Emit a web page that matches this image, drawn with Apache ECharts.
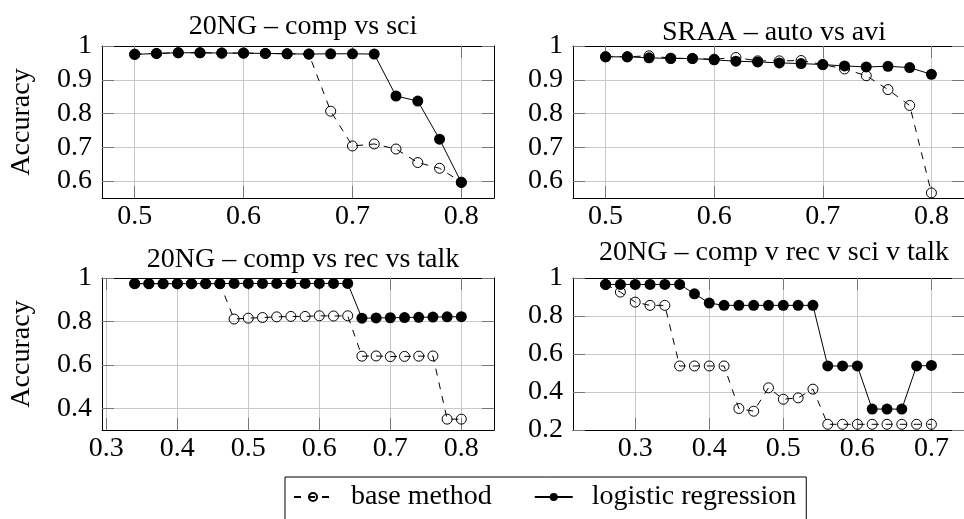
<!DOCTYPE html>
<html>
<head>
<meta charset="utf-8">
<script src="https://cdn.jsdelivr.net/npm/echarts@6/dist/echarts.min.js"></script>
<style>
html,body{margin:0;padding:0;background:#fff;}
#chart{width:964px;height:519px;}
</style>
</head>
<body>
<div id="chart"></div>
<script>
// ---- data ----
const titles = ['20NG \u2013 comp vs sci', 'SRAA \u2013 auto vs avi', '20NG \u2013 comp vs rec vs talk', '20NG \u2013 comp v rec v sci v talk'];
const seriesNames = ['base method', 'logistic regression'];
const yName = 'Accuracy';

const p1X = [0.50,0.52,0.54,0.56,0.58,0.60,0.62,0.64,0.66,0.68,0.70,0.72,0.74,0.76,0.78,0.80];
const p1Base = [0.976,0.978,0.980,0.980,0.979,0.979,0.978,0.977,0.976,0.807,0.704,0.710,0.695,0.655,0.638,0.597];
const p1Logit = [0.975,0.978,0.980,0.980,0.979,0.979,0.978,0.977,0.976,0.977,0.977,0.976,0.852,0.837,0.724,0.596];

const p2X = [0.50,0.52,0.54,0.56,0.58,0.60,0.62,0.64,0.66,0.68,0.70,0.72,0.74,0.76,0.78,0.80];
const p2Base = [0.968,0.968,0.971,0.964,0.963,0.961,0.966,0.956,0.956,0.957,0.945,0.932,0.912,0.871,0.824,0.565];
const p2Logit = [0.968,0.968,0.965,0.963,0.963,0.959,0.955,0.953,0.950,0.948,0.945,0.941,0.938,0.940,0.936,0.916];

const p3X = [0.34,0.36,0.38,0.40,0.42,0.44,0.46,0.48,0.50,0.52,0.54,0.56,0.58,0.60,0.62,0.64,0.66,0.68,0.70,0.72,0.74,0.76,0.78,0.80];
const p3Base = [0.974,0.974,0.974,0.974,0.974,0.974,0.974,0.811,0.815,0.818,0.821,0.823,0.823,0.826,0.825,0.826,0.640,0.641,0.638,0.639,0.640,0.641,0.350,0.350];
const p3Logit = [0.974,0.974,0.974,0.974,0.974,0.974,0.974,0.975,0.975,0.975,0.975,0.975,0.975,0.975,0.975,0.975,0.815,0.816,0.817,0.818,0.819,0.820,0.821,0.822];

const p4X = [0.26,0.28,0.30,0.32,0.34,0.36,0.38,0.40,0.42,0.44,0.46,0.48,0.50,0.52,0.54,0.56,0.58,0.60,0.62,0.64,0.66,0.68,0.70];
const p4Base = [0.966,0.926,0.873,0.856,0.856,0.537,0.537,0.537,0.537,0.313,0.299,0.422,0.362,0.369,0.415,0.230,0.230,0.230,0.230,0.230,0.230,0.230,0.230];
const p4Logit = [0.966,0.966,0.966,0.966,0.966,0.966,0.917,0.868,0.856,0.856,0.856,0.856,0.856,0.856,0.856,0.537,0.537,0.537,0.310,0.310,0.310,0.537,0.540];

// tick values per panel
const p1XTicks = [0.5,0.6,0.7,0.8];
const p2XTicks = [0.5,0.6,0.7,0.8];
const p3XTicks = [0.3,0.4,0.5,0.6,0.7,0.8];
const p4XTicks = [0.3,0.4,0.5,0.6,0.7];
const p1YTicks = [0.6,0.7,0.8,0.9,1];
const p2YTicks = [0.6,0.7,0.8,0.9,1];
const p3YTicks = [0.4,0.6,0.8,1];
const p4YTicks = [0.2,0.4,0.6,0.8,1];

// ---- layout / style ----
const FONT = '"Liberation Serif", "Times New Roman", serif';
const FS = 28;
const panels = [
  {x:p1X, base:p1Base, logit:p1Logit, xt:p1XTicks, yt:p1YTicks, xr:[0.47,0.83], yr:[0.55,1.0], grid:{left:102,top:46,width:392,height:152}, yname:true, titleTop:8},
  {x:p2X, base:p2Base, logit:p2Logit, xt:p2XTicks, yt:p2YTicks, xr:[0.47,0.83], yr:[0.55,1.0], grid:{left:573,top:46,width:392,height:152}, yname:false, titleTop:14},
  {x:p3X, base:p3Base, logit:p3Logit, xt:p3XTicks, yt:p3YTicks, xr:[0.294,0.846], yr:[0.3,1.0], grid:{left:102,top:278,width:392,height:152}, yname:true, titleTop:241},
  {x:p4X, base:p4Base, logit:p4Logit, xt:p4XTicks, yt:p4YTicks, xr:[0.216,0.744], yr:[0.2,1.0], grid:{left:573,top:278,width:392,height:152}, yname:false, titleTop:234}
];

const fmt = v => String(Math.round(v * 10) / 10);
const tickStyle = {show:true, inside:true, length:12, lineStyle:{color:'#777', width:1}};
const axisLine = {show:true, onZero:false, lineStyle:{color:'#000', width:1}};
const gridLine = {show:true, lineStyle:{color:'#c8c8c8', width:1}};

const option = {
  animation:false,
  backgroundColor:'#fff',
  title:[], grid:[], xAxis:[], yAxis:[], series:[],
  legend:{
    data:seriesNames,
    left:285, top:477,
    orient:'horizontal',
    backgroundColor:'#fff',
    borderColor:'#000', borderWidth:1, borderRadius:0,
    padding:[6,10,30,8],
    itemWidth:38, itemHeight:10, itemGap:42,
    textStyle:{fontFamily:FONT, fontSize:FS, color:'#000', padding:[0,0,0,14]}
  }
};

panels.forEach((p, i) => {
  const g = p.grid;
  option.grid.push({left:g.left, top:g.top, width:g.width, height:g.height, containLabel:false});
  option.title.push({
    text:titles[i], left:g.left + g.width/2, top:p.titleTop, textAlign:'center',
    textStyle:{fontFamily:FONT, fontSize:FS, fontWeight:'normal', color:'#000'}
  });
  // bottom x
  option.xAxis.push({
    type:'value', gridIndex:i, position:'bottom', min:p.xr[0], max:p.xr[1],
    axisLine:axisLine, axisTick:Object.assign({}, tickStyle, {customValues:p.xt}),
    axisLabel:{customValues:p.xt, formatter:fmt, margin:5, fontFamily:FONT, fontSize:FS, color:'#000'},
    splitLine:gridLine
  });
  // top x (ticks only)
  option.xAxis.push({
    type:'value', gridIndex:i, position:'top', min:p.xr[0], max:p.xr[1],
    axisLine:axisLine, axisTick:Object.assign({}, tickStyle, {customValues:p.xt}),
    axisLabel:{show:false}, splitLine:{show:false}
  });
  // left y
  const ya = {
    type:'value', gridIndex:i, position:'left', min:p.yr[0], max:p.yr[1],
    axisLine:axisLine, axisTick:Object.assign({}, tickStyle, {customValues:p.yt}),
    axisLabel:{customValues:p.yt, formatter:fmt, margin:10, fontFamily:FONT, fontSize:FS, color:'#000'},
    splitLine:gridLine
  };
  if (p.yname) {
    ya.name = yName; ya.nameLocation = 'middle'; ya.nameGap = 66;
    ya.nameTextStyle = {fontFamily:FONT, fontSize:FS, color:'#000'};
  }
  option.yAxis.push(ya);
  // right y (ticks only)
  option.yAxis.push({
    type:'value', gridIndex:i, position:'right', min:p.yr[0], max:p.yr[1],
    axisLine:axisLine, axisTick:Object.assign({}, tickStyle, {customValues:p.yt}),
    axisLabel:{show:false}, splitLine:{show:false}
  });
  option.series.push({
    name:seriesNames[0], type:'line', xAxisIndex:2*i, yAxisIndex:2*i,
    data:p.x.map((x, k) => [x, p.base[k]]),
    symbol:'circle', symbolSize:10,
    itemStyle:{color:'rgba(255,255,255,0)', borderColor:'#000', borderWidth:1},
    lineStyle:{color:'#000', width:1, type:[7,7]},
    z:2
  });
  option.series.push({
    name:seriesNames[1], type:'line', xAxisIndex:2*i, yAxisIndex:2*i,
    data:p.x.map((x, k) => [x, p.logit[k]]),
    symbol:'circle', symbolSize:11,
    itemStyle:{color:'#000', borderColor:'#000', borderWidth:0},
    lineStyle:{color:'#000', width:1, type:'solid'},
    z:3
  });
});

const chart = echarts.init(document.getElementById('chart'), null, {renderer:'canvas'});
chart.setOption(option);
</script>
</body>
</html>
